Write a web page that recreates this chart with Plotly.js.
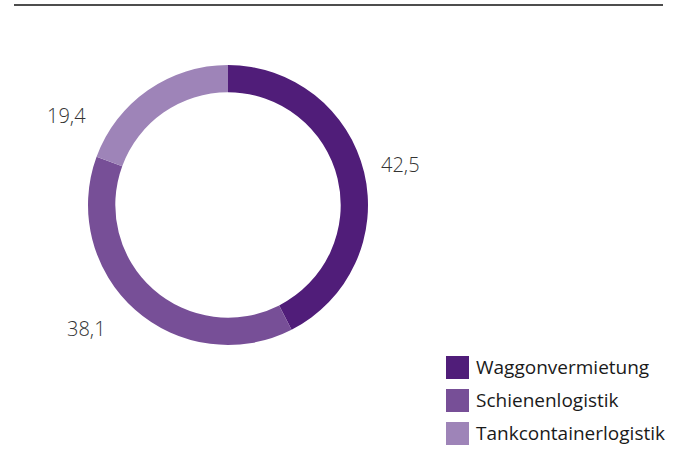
<!DOCTYPE html>
<html><head><meta charset="utf-8">
<script src="https://cdn.plot.ly/plotly-3.0.1.min.js"></script>
<style>html,body{margin:0;padding:0;background:#fff}#chart{width:678px;height:468px}</style>
</head><body><div id="chart"></div>
<script>
const categories = ["Waggonvermietung", "Schienenlogistik", "Tankcontainerlogistik"];
const values = [42.5, 38.1, 19.4];
const colors = ["#501d79", "#774f97", "#9e84b8"];

const FONT = "Open Sans, sans-serif";
const W = 678, H = 468;

const trace = {
  type: "pie",
  labels: categories,
  values: values,
  sort: false,
  direction: "clockwise",
  rotation: 0,
  hole: 0.805,
  marker: {colors: colors, line: {width: 0}},
  textinfo: "none",
  showlegend: false,
  domain: {x: [88/W, 368/W], y: [1 - 345/H, 1 - 65/H]},
  hoverinfo: "label+value"
};

// label anchor positions (pixels) for the value labels, in category order
const labelPos = [[401, 164], [86, 328], [66, 115]];

const shapes = [{
  type: "line", xref: "paper", yref: "paper",
  x0: 14/W, x1: 663/W, y0: 1 - 5/H, y1: 1 - 5/H,
  line: {color: "#4d4d4d", width: 2}
}];
const annotations = [];
values.forEach((v, i) => {
  annotations.push({
    xref: "paper", yref: "paper",
    x: labelPos[i][0]/W, y: 1 - labelPos[i][1]/H,
    xanchor: "center", yanchor: "middle",
    text: v.toFixed(1).replace(".", ","), showarrow: false,
    font: {family: FONT, size: 20, color: "#333333", weight: 300}
  });
});
const legX = 446, legY0 = 356, legStep = 33, sq = 23;
categories.forEach((c, i) => {
  const top = legY0 + i * legStep;
  shapes.push({
    type: "rect", xref: "paper", yref: "paper",
    x0: legX/W, x1: (legX + sq)/W,
    y0: 1 - (top + sq)/H, y1: 1 - top/H,
    fillcolor: colors[i], line: {width: 0}
  });
  annotations.push({
    xref: "paper", yref: "paper",
    x: (legX + sq + 5)/W, y: 1 - (top + sq/2 - 1)/H,
    xanchor: "left", yanchor: "middle",
    text: c, showarrow: false,
    font: {family: FONT, size: 19, color: "#1a1a1a"}
  });
});

const layout = {
  width: W, height: H,
  margin: {l: 0, r: 0, t: 0, b: 0},
  paper_bgcolor: "#fff", plot_bgcolor: "#fff",
  separators: ",.",
  showlegend: false,
  shapes: shapes,
  annotations: annotations,
  font: {family: FONT}
};

Plotly.newPlot("chart", [trace], layout, {displayModeBar: false, staticPlot: true});
</script>
</body></html>
